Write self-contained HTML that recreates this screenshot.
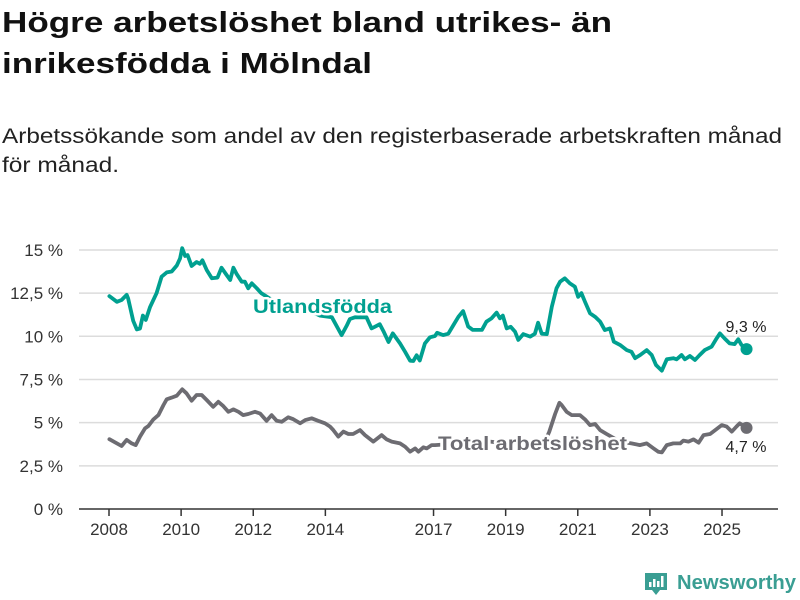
<!DOCTYPE html>
<html><head><meta charset="utf-8"><style>
body{margin:0;background:#fff;}
svg{display:block;font-family:"Liberation Sans",sans-serif;}
</style></head><body>
<svg id="chart" width="800" height="600" viewBox="0 0 800 600" xmlns="http://www.w3.org/2000/svg">
<rect width="800" height="600" fill="#fff"/>
<text x="2" y="32" font-size="29" font-weight="bold" fill="#111" textLength="610" lengthAdjust="spacingAndGlyphs">Högre arbetslöshet bland utrikes- än</text>
<text x="2" y="73" font-size="29" font-weight="bold" fill="#111" textLength="370" lengthAdjust="spacingAndGlyphs">inrikesfödda i Mölndal</text>
<text x="2" y="143" font-size="21" fill="#222" textLength="780" lengthAdjust="spacingAndGlyphs">Arbetssökande som andel av den registerbaserade arbetskraften månad</text>
<text x="2" y="172" font-size="21" fill="#222" textLength="117" lengthAdjust="spacingAndGlyphs">för månad.</text>
<g id="grid"></g>
<g id="series"></g>
<g id="labels"></g>
<g>
<path d="M645 573 h22 v17 h-7 l-4 5 l-4 -5 h-7 z" fill="#3a9e93"/>
<rect x="649" y="582" width="2.5" height="5" fill="#fff"/>
<rect x="653" y="579" width="2.5" height="8" fill="#fff"/>
<rect x="657" y="581" width="2.5" height="6" fill="#fff"/>
<rect x="661" y="576" width="2.5" height="11" fill="#fff"/>
<text x="677" y="589" font-size="20" font-weight="bold" fill="#3a9e93" textLength="119" lengthAdjust="spacingAndGlyphs">Newsworthy</text>
</g>
</svg>
<script>
const yTicks=[0,2.5,5,7.5,10,12.5,15];
const yTickLabels=["0 %","2,5 %","5 %","7,5 %","10 %","12,5 %","15 %"];
const xTicks=[2008,2010,2012,2014,2017,2019,2021,2023,2025];
const utlDates=[2008.01,2008.22,2008.35,2008.49,2008.53,2008.67,2008.77,2008.86,2008.94,2009.02,2009.14,2009.32,2009.46,2009.60,2009.74,2009.88,2009.97,2010.03,2010.11,2010.18,2010.29,2010.43,2010.52,2010.59,2010.71,2010.85,2011.01,2011.12,2011.26,2011.36,2011.45,2011.54,2011.68,2011.77,2011.86,2011.96,2012.10,2012.22,2012.60,2013.02,2013.44,2013.85,2014.18,2014.45,2014.59,2014.68,2014.82,2015.14,2015.28,2015.37,2015.51,2015.61,2015.75,2015.87,2016.07,2016.21,2016.35,2016.44,2016.53,2016.62,2016.76,2016.90,2017.04,2017.10,2017.27,2017.41,2017.55,2017.69,2017.82,2017.96,2018.09,2018.34,2018.47,2018.61,2018.75,2018.84,2018.92,2019.03,2019.14,2019.26,2019.35,2019.49,2019.68,2019.81,2019.90,2020.00,2020.14,2020.28,2020.41,2020.51,2020.64,2020.78,2020.92,2021.01,2021.10,2021.20,2021.34,2021.48,2021.62,2021.75,2021.89,2022.00,2022.17,2022.36,2022.49,2022.59,2022.73,2022.91,2023.05,2023.17,2023.33,2023.47,2023.65,2023.74,2023.88,2023.97,2024.11,2024.25,2024.38,2024.52,2024.71,2024.85,2024.94,2025.07,2025.21,2025.35,2025.45,2025.54,2025.68];
const utlValues=[12.33,12.0,12.1,12.4,12.2,10.9,10.4,10.45,11.2,10.95,11.7,12.5,13.45,13.7,13.75,14.1,14.5,15.1,14.65,14.7,14.07,14.3,14.2,14.4,13.84,13.36,13.4,13.97,13.55,13.26,13.97,13.6,13.16,13.16,12.78,13.07,12.78,12.5,12.0,11.8,11.6,11.2,11.1,10.07,10.6,11.0,11.1,11.1,10.46,10.55,10.7,10.3,9.67,10.17,9.59,9.1,8.59,8.57,8.9,8.6,9.59,9.94,10.02,10.2,10.07,10.15,10.65,11.13,11.46,10.56,10.37,10.37,10.85,11.04,11.37,11.04,11.2,10.46,10.55,10.27,9.79,10.13,9.98,10.15,10.79,10.15,10.13,11.71,12.78,13.16,13.36,13.07,12.87,12.29,12.5,12.0,11.33,11.13,10.85,10.36,10.46,9.69,9.5,9.2,9.1,8.73,8.92,9.2,8.92,8.34,8.01,8.67,8.73,8.67,8.92,8.67,8.86,8.63,8.92,9.2,9.4,9.88,10.17,9.88,9.59,9.55,9.83,9.5,9.26];
const totDates=[2008.01,2008.35,2008.49,2008.63,2008.74,2008.86,2009.00,2009.09,2009.23,2009.37,2009.51,2009.60,2009.74,2009.88,2010.03,2010.15,2010.29,2010.43,2010.57,2010.71,2010.89,2011.03,2011.17,2011.31,2011.45,2011.59,2011.72,2011.86,2012.05,2012.19,2012.37,2012.51,2012.65,2012.79,2012.97,2013.11,2013.30,2013.44,2013.62,2013.80,2013.99,2014.13,2014.22,2014.36,2014.50,2014.64,2014.77,2014.96,2015.10,2015.33,2015.56,2015.70,2015.84,2016.07,2016.21,2016.35,2016.49,2016.58,2016.72,2016.81,2016.95,2017.04,2017.73,2018.57,2019.40,2020.09,2020.21,2020.37,2020.49,2020.55,2020.69,2020.83,2021.06,2021.20,2021.34,2021.48,2021.62,2021.80,2022.17,2022.49,2022.72,2022.91,2023.10,2023.23,2023.33,2023.47,2023.65,2023.84,2023.93,2024.07,2024.21,2024.35,2024.49,2024.67,2024.81,2024.99,2025.13,2025.27,2025.40,2025.49,2025.68];
const totValues=[4.04,3.65,4.0,3.8,3.7,4.19,4.67,4.8,5.19,5.44,6.02,6.35,6.45,6.56,6.93,6.7,6.27,6.6,6.6,6.31,5.92,6.21,5.96,5.63,5.77,5.63,5.44,5.5,5.63,5.53,5.11,5.44,5.11,5.05,5.31,5.2,4.96,5.15,5.25,5.11,4.96,4.77,4.57,4.19,4.48,4.34,4.34,4.57,4.28,3.9,4.28,4.03,3.9,3.8,3.61,3.32,3.51,3.32,3.57,3.51,3.7,3.7,3.8,3.9,3.7,3.9,4.48,5.5,6.15,6.02,5.63,5.44,5.44,5.19,4.86,4.92,4.57,4.34,3.9,3.8,3.7,3.8,3.51,3.32,3.28,3.7,3.8,3.8,3.96,3.9,4.03,3.84,4.28,4.34,4.57,4.86,4.77,4.48,4.77,4.96,4.7];
const NS="http://www.w3.org/2000/svg";
const X=d=>109+(d-2008)*36.06;
const Y=v=>509-v*17.27;
function mk(tag,attrs,parent){const e=document.createElementNS(NS,tag);for(const k in attrs)e.setAttribute(k,attrs[k]);parent.appendChild(e);return e;}
const grid=document.getElementById('grid');
yTicks.forEach((t,i)=>{
  if(t>0){const l=mk('line',{x1:79,x2:778,y1:Y(t),y2:Y(t),stroke:'#dcdcdc','stroke-width':1.5},grid);
  
  }
  const tx=mk('text',{x:63,y:Y(t)+6,'text-anchor':'end','font-size':17,fill:'#333'},grid);
  tx.textContent=yTickLabels[i];
  
  
});
const ax=mk('line',{x1:79,x2:778,y1:509,y2:509,stroke:'#333','stroke-width':1.5},grid);


xTicks.forEach(t=>{
  const tk=mk('line',{x1:X(t),x2:X(t),y1:509,y2:516,stroke:'#333','stroke-width':1.5},grid);
  
  
  const tx=mk('text',{x:X(t),y:535,'text-anchor':'middle','font-size':17,fill:'#333'},grid);
  tx.textContent=t;
  
  
});
const ser=document.getElementById('series');
function line(dates,vals,color,name){
  const d=dates.map((t,i)=>(i?'L':'M')+X(t).toFixed(1)+' '+Y(vals[i]).toFixed(1)).join('');
  const p=mk('path',{d:d,fill:'none',stroke:color,'stroke-width':3.8,'stroke-linejoin':'round','stroke-linecap':'round'},ser);
  
  
  const n=dates.length-1;
  const c=mk('circle',{cx:X(dates[n]),cy:Y(vals[n]),r:6,fill:color},ser);
  
  
}
line(totDates,totValues,'#6d6c72','total');
line(utlDates,utlValues,'#00a090','utlandsfodda');
const lab=document.getElementById('labels');
function label(x,y,txt,color,size,bold,len,name,anchor){
  const a={x:x,y:y,'font-size':size,fill:color,stroke:'#fff','stroke-width':5,'paint-order':'stroke','stroke-linejoin':'round'};
  if(bold)a['font-weight']='bold';
  if(len){a.textLength=len;a.lengthAdjust='spacingAndGlyphs';}
  if(anchor)a['text-anchor']=anchor;
  const t=mk('text',a,lab);t.textContent=txt;
  
  
}
label(253,313,'Utlandsfödda','#00a090',19,true,139,'utlandsfodda-label');
label(438,450,'Total arbetslöshet','#6d6c72',19,true,189,'total-label');
label(746,332,'9,3 %','#222',16,false,0,'utlandsfodda-end-value','middle');
label(746,452,'4,7 %','#222',16,false,0,'total-end-value','middle');
</script>
</body></html>
